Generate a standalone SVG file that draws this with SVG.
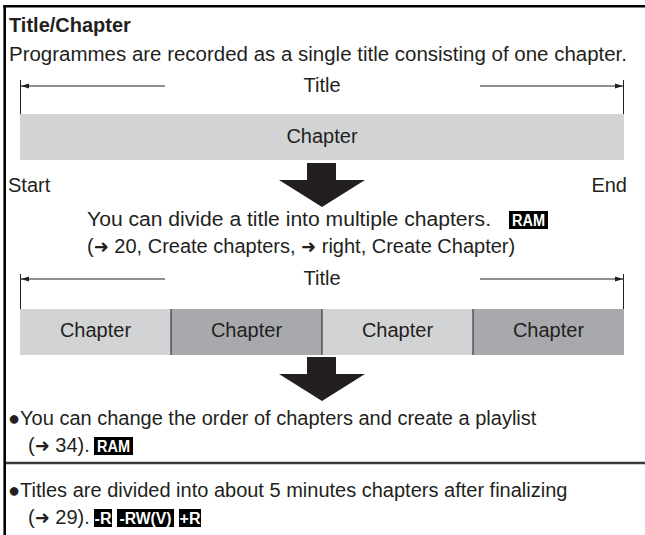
<svg xmlns="http://www.w3.org/2000/svg" width="645" height="535" viewBox="0 0 645 535">
<defs>
<style>
.t{font-family:"Liberation Sans",Arial,sans-serif;font-size:20px;fill:#231f20}
.b{font-weight:bold}
.m{text-anchor:middle}
.e{text-anchor:end}
.bg{font-family:"Liberation Sans",Arial,sans-serif;font-size:16px;font-weight:bold;fill:#fff;text-anchor:middle}
.ar{font-family:"DejaVu Sans","Liberation Sans",sans-serif;font-size:18px}
.light{fill:#d1d3d4}
.dark{fill:#a7a9ac}
.dim{stroke:#231f20;stroke-width:1;fill:none}
.div{stroke:#231f20;stroke-width:1}
.big{fill:#231f20}
</style>
<marker id="ah" viewBox="0 0 8 6" refX="8" refY="3" markerWidth="8" markerHeight="6" orient="auto" markerUnits="userSpaceOnUse">
<path d="M0,0.5 L8,3 L0,5.5 Z" fill="#231f20"/>
</marker>
</defs>
<rect width="645" height="535" fill="#fff"/>
<g id="frame">
<line x1="3.3" y1="6.2" x2="645" y2="6.2" stroke="#000" stroke-width="2.6"/>
<line x1="4.7" y1="5" x2="4.7" y2="535" stroke="#000" stroke-width="2.6"/>
<line x1="6" y1="463" x2="645" y2="463" stroke="#3a3a3a" stroke-width="2.4"/>
</g>
<g id="header">
<text class="t b" x="9" y="32">Title/Chapter</text>
<text class="t" x="9" y="61" textLength="618" lengthAdjust="spacingAndGlyphs">Programmes are recorded as a single title consisting of one chapter.</text>
</g>
<g id="title1">
<text class="t m" x="322" y="92">Title</text>
</g>
<g id="bar1">
<rect class="light" x="20" y="114" width="604" height="46"/>
<text class="t m" x="322" y="143">Chapter</text>
</g>
<g id="startend">
<text class="t" x="8" y="192">Start</text>
<text class="t e" x="627" y="192">End</text>
</g>
<g id="divide-text">
<text class="t" x="87" y="226" textLength="404" lengthAdjust="spacingAndGlyphs">You can divide a title into multiple chapters.</text>
<rect x="509" y="211" width="39" height="18" fill="#000"/>
<text class="bg" x="528.5" y="226" textLength="33" lengthAdjust="spacingAndGlyphs">RAM</text>
<text class="t" x="87" y="253">(<tspan class="ar">➜</tspan> 20, Create chapters, <tspan class="ar">➜</tspan> right, Create Chapter)</text>
</g>
<g id="title2">
<text class="t m" x="322" y="285">Title</text>
</g>
<g id="bar2">
<rect class="light" x="20" y="309" width="151" height="46"/>
<rect class="dark" x="171" y="309" width="151" height="46"/>
<rect class="light" x="322" y="309" width="151" height="46"/>
<rect class="dark" x="473" y="309" width="151" height="46"/>
<line class="div" x1="171" y1="309" x2="171" y2="355"/>
<line class="div" x1="322" y1="309" x2="322" y2="355"/>
<line class="div" x1="473" y1="309" x2="473" y2="355"/>
<text class="t m" x="95.5" y="337">Chapter</text>
<text class="t m" x="246.5" y="337">Chapter</text>
<text class="t m" x="397.5" y="337">Chapter</text>
<text class="t m" x="548.5" y="337">Chapter</text>
</g>
<g id="note1">
<text class="t" x="8" y="425">●You can change the order of chapters and create a playlist</text>
<text class="t" x="28" y="452">(<tspan class="ar">➜</tspan> 34).</text>
<rect x="94" y="437" width="39" height="18" fill="#000"/>
<text class="bg" x="113.5" y="452" textLength="33" lengthAdjust="spacingAndGlyphs">RAM</text>
</g>
<g id="note2">
<text class="t" x="8" y="497">●Titles are divided into about 5 minutes chapters after finalizing</text>
<text class="t" x="28" y="524">(<tspan class="ar">➜</tspan> 29).</text>
<rect x="94" y="509" width="18" height="18" fill="#000"/>
<text class="bg" x="103" y="524">-R</text>
<rect x="117" y="509" width="57" height="18" fill="#000"/>
<text class="bg" x="145.5" y="524" textLength="52" lengthAdjust="spacingAndGlyphs">-RW(V)</text>
<rect x="179" y="509" width="22" height="18" fill="#000"/>
<text class="bg" x="190" y="524">+R</text>
</g>
<g id="connectors">
<line class="dim" x1="20.5" y1="80" x2="20.5" y2="114"/>
<line class="dim" x1="623.5" y1="80" x2="623.5" y2="114"/>
<line class="dim" x1="165" y1="86" x2="21" y2="86" marker-end="url(#ah)"/>
<line class="dim" x1="480" y1="86" x2="623" y2="86" marker-end="url(#ah)"/>
<line class="dim" x1="20.5" y1="274" x2="20.5" y2="309"/>
<line class="dim" x1="623.5" y1="274" x2="623.5" y2="309"/>
<line class="dim" x1="165" y1="279" x2="21" y2="279" marker-end="url(#ah)"/>
<line class="dim" x1="480" y1="279" x2="623" y2="279" marker-end="url(#ah)"/>
<path class="big" d="M307,163 H336 V180 H365 L322,207 L279,180 H307 Z"/>
<path class="big" d="M307,357 H336 V374 H365 L322,401 L279,374 H307 Z"/>
</g>
</svg>
